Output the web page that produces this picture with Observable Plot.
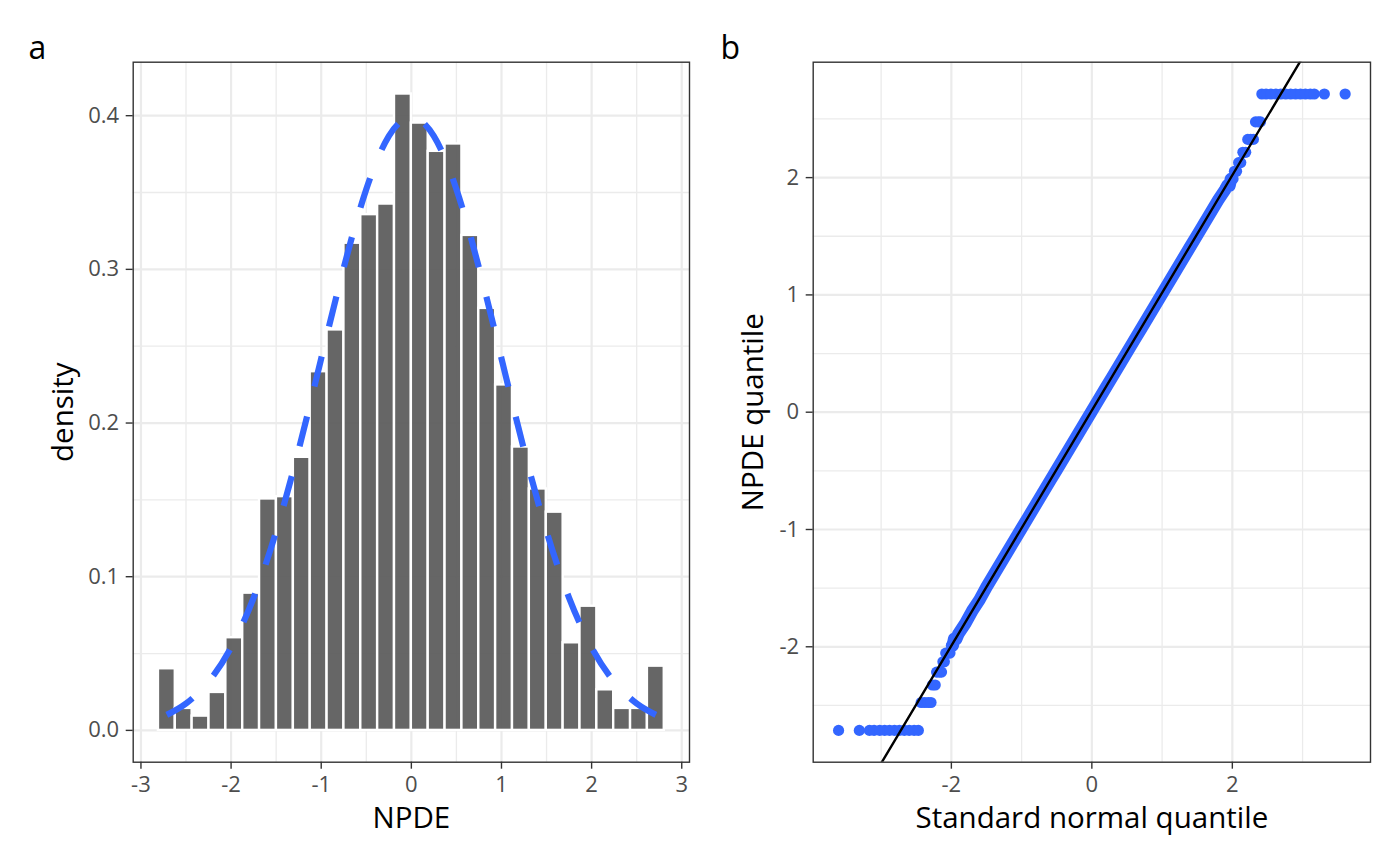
<!DOCTYPE html>
<html><head><meta charset="utf-8">
<script src="https://cdn.jsdelivr.net/npm/d3@7"></script>
<script src="https://cdn.jsdelivr.net/npm/@observablehq/plot@0.6"></script>
<style>
body{margin:0;background:#fff;}
#wrap{position:relative;width:1400px;height:866px;font-family:"Open Sans",sans-serif;}
.panel{position:absolute;top:0;}
</style></head><body>
<div id="wrap">
<div class="panel" id="pa" style="left:0px"></div>
<div class="panel" id="pb" style="left:700px"></div>
</div>
<script>
// ---------- Panel a: histogram of NPDE ----------
const binEdges = [-2.806,-2.619,-2.432,-2.245,-2.058,-1.871,-1.684,-1.497,-1.309,-1.122,-0.935,-0.748,-0.561,-0.374,-0.187,0.000,0.187,0.374,0.561,0.748,0.935,1.122,1.309,1.497,1.684,1.871,2.058,2.245,2.432,2.619,2.806];
const densities = [0.0401,0.0143,0.0093,0.0247,0.0603,0.0893,0.1506,0.1521,0.1777,0.2334,0.2606,0.3170,0.3356,0.3425,0.4141,0.3952,0.3768,0.3816,0.3221,0.2746,0.2248,0.1844,0.1571,0.1420,0.0570,0.0808,0.0264,0.0143,0.0143,0.0418];
const curveX = [-2.713,-2.5,-2.25,-2,-1.75,-1.5,-1.25,-1,-0.75,-0.5,-0.25,0,0.25,0.5,0.75,1,1.25,1.5,1.75,2,2.25,2.5,2.713];
const curveY = [0.0101,0.0175,0.0317,0.0540,0.0863,0.1295,0.1826,0.2420,0.3011,0.3521,0.3867,0.3989,0.3867,0.3521,0.3011,0.2420,0.1826,0.1295,0.0863,0.0540,0.0317,0.0175,0.0101];
const histXTicks = [-3,-2,-1,0,1,2,3];
const histXMinor = [-2.5,-1.5,-0.5,0.5,1.5,2.5];
const histYTicks = [0,0.1,0.2,0.3,0.4];
const histYMinor = [0.05,0.15,0.25,0.35];

// ---------- Panel b: QQ plot ----------
const qqTheoretical = [
 -3.606,-3.310,-3.166,-3.10,-3.02,-2.95,-2.88,-2.81,-2.74,-2.67,-2.60,-2.53,-2.47,
 -2.43,-2.38,-2.33,-2.29,
 -2.27,-2.23,
 -2.21,-2.17,-2.14,
 -2.12,-2.10,
 -2.08,-2.05,-2.02,
 -2.00,-1.98,
 -1.96,-1.93,
 -1.9,-1.8,-1.7,-1.6,-1.5,-1.4,-1.3,-1.2,-1.1,-1.0,-0.9,-0.8,-0.7,-0.6,-0.5,-0.4,-0.3,-0.2,-0.1,
 0.0,0.1,0.2,0.3,0.4,0.5,0.6,0.7,0.8,0.9,1.0,1.1,1.2,1.3,1.4,1.5,1.6,1.7,1.8,1.9,
 1.93,1.96,
 1.98,2.01,
 2.03,2.06,
 2.09,2.12,
 2.15,2.19,
 2.22,2.26,2.30,
 2.33,2.37,2.40,
 2.42,2.48,2.55,2.62,2.69,2.76,2.83,2.90,2.97,3.04,3.11,3.166,3.310,3.606];
const qqSample = [
 -2.713,-2.713,-2.713,-2.713,-2.713,-2.713,-2.713,-2.713,-2.713,-2.713,-2.713,-2.713,-2.713,
 -2.475,-2.475,-2.475,-2.475,
 -2.326,-2.326,
 -2.216,-2.216,-2.216,
 -2.128,-2.128,
 -2.054,-2.054,-2.054,
 -1.989,-1.989,
 -1.933,-1.933,
 -1.89,-1.80,-1.69,-1.60,-1.49,-1.39,-1.29,-1.19,-1.09,-0.99,-0.89,-0.79,-0.69,-0.59,-0.49,-0.39,-0.29,-0.19,-0.09,
 0.01,0.11,0.21,0.31,0.41,0.51,0.61,0.71,0.81,0.91,1.01,1.11,1.21,1.31,1.41,1.51,1.61,1.71,1.81,1.90,
 1.933,1.933,
 1.989,1.989,
 2.054,2.054,
 2.128,2.128,
 2.216,2.216,
 2.326,2.326,2.326,
 2.475,2.475,2.475,
 2.713,2.713,2.713,2.713,2.713,2.713,2.713,2.713,2.713,2.713,2.713,2.713,2.713,2.713];
const qqLineIntercept = 0.015;
const qqLineSlope = 1.003;
const qqXTicks = [-2,0,2];
const qqXMinor = [-3,-1,1,3];
const qqYTicks = [-2,-1,0,1,2];
const qqYMinor = [-2.5,-1.5,-0.5,0.5,1.5,2.5];

const bars = densities.map((d,i) => ({x1: binEdges[i], x2: binEdges[i+1], density: d}));
const curve = curveX.map((x,i) => ({x, y: curveY[i]}));
const qq = qqTheoretical.map((x,i) => ({x, y: qqSample[i]}));

const BLUE = "#3366FF";
const GRID = "#EBEBEB";
const fmt = d => String(d);
const axisCommon = {tickSize: 7, tickPadding: 7, stroke: "#333333", strokeWidth: 1.4, fill: "#4D4D4D", fontSize: 22, label: null};
const TITLE = 29.5;

const xDomA = [-3.086, 3.086];
const plotA = Plot.plot({
  width: 700, height: 866,
  marginLeft: 132.7, marginRight: 11, marginTop: 61.7, marginBottom: 104.3,
  x: {domain: xDomA},
  y: {domain: [-0.0207, 0.4348]},
  style: {fontFamily: "'Open Sans', sans-serif", background: "transparent", overflow: "visible"},
  marks: [
    Plot.gridX(histXMinor, {stroke: GRID, strokeOpacity: 1, strokeWidth: 1.3}),
    Plot.gridY(histYMinor, {stroke: GRID, strokeOpacity: 1, strokeWidth: 1.3}),
    Plot.gridX(histXTicks, {stroke: GRID, strokeOpacity: 1, strokeWidth: 2.2}),
    Plot.gridY(histYTicks, {stroke: GRID, strokeOpacity: 1, strokeWidth: 2.2}),
    Plot.rectY(bars, {x1: "x1", x2: "x2", y: "density", fill: "#5C5C5C", fillOpacity: 0.94, stroke: "white", strokeWidth: 2.4}),
    Plot.line(curve, {x: "x", y: "y", curve: "natural", stroke: BLUE, strokeWidth: 6.2, strokeDasharray: "30,30", strokeLinecap: "butt"}),
    Plot.frame({stroke: "#333333", strokeWidth: 1.4}),
    Plot.axisX(histXTicks, {...axisCommon, tickFormat: fmt}),
    Plot.axisY(histYTicks, {...axisCommon, tickFormat: d => d.toFixed(1)}),
    Plot.text(["NPDE"], {frameAnchor: "bottom", textAnchor: "middle", lineAnchor: "bottom", dy: 66, fontSize: TITLE, fill: "black"}),
    Plot.text(["density"], {frameAnchor: "left", textAnchor: "middle", rotate: -90, dx: -69.7, fontSize: TITLE, fill: "black"}),
    Plot.text(["a"], {frameAnchor: "top-left", textAnchor: "start", lineAnchor: "bottom", dx: -104.7, dy: -3.4, fontSize: 32, fill: "black"})
  ]
});
document.getElementById("pa").appendChild(plotA);
// make the dashed density curve hold 22 dashes and 21 equal gaps, as in the reference
const dashPath = plotA.querySelector('path[stroke-dasharray]') || plotA.querySelector('[stroke-dasharray] path');
if (dashPath && dashPath.getTotalLength) {
  const seg = dashPath.getTotalLength() / 43;
  const owner = dashPath.hasAttribute('stroke-dasharray') ? dashPath : dashPath.parentNode;
  owner.setAttribute('stroke-dasharray', seg.toFixed(2) + ',' + seg.toFixed(2));
}

const xDomB = [-3.967, 3.967];
const qqLine = xDomB.map(x => ({x, y: qqLineIntercept + qqLineSlope * x}));
const plotB = Plot.plot({
  width: 700, height: 866,
  marginLeft: 112.7, marginRight: 30, marginTop: 61.7, marginBottom: 104.3,
  x: {domain: xDomB},
  y: {domain: [-2.984, 2.984]},
  style: {fontFamily: "'Open Sans', sans-serif", background: "transparent", overflow: "visible"},
  marks: [
    Plot.gridX(qqXMinor, {stroke: GRID, strokeOpacity: 1, strokeWidth: 1.3}),
    Plot.gridY(qqYMinor, {stroke: GRID, strokeOpacity: 1, strokeWidth: 1.3}),
    Plot.gridX(qqXTicks, {stroke: GRID, strokeOpacity: 1, strokeWidth: 2.2}),
    Plot.gridY(qqYTicks, {stroke: GRID, strokeOpacity: 1, strokeWidth: 2.2}),
    Plot.line(qq, {filter: d => Math.abs(d.x) < 2.0, x: "x", y: "y", stroke: BLUE, strokeWidth: 12.5, strokeLinecap: "round"}),
    Plot.dot(qq, {x: "x", y: "y", r: 5.6, fill: BLUE, stroke: null}),
    Plot.line(qqLine, {x: "x", y: "y", stroke: "black", strokeWidth: 2.4, clip: true}),
    Plot.frame({stroke: "#333333", strokeWidth: 1.4}),
    Plot.axisX(qqXTicks, {...axisCommon, tickFormat: fmt}),
    Plot.axisY(qqYTicks, {...axisCommon, tickFormat: fmt}),
    Plot.text(["Standard normal quantile"], {frameAnchor: "bottom", textAnchor: "middle", lineAnchor: "bottom", dy: 66, fontSize: TITLE, fill: "black"}),
    Plot.text(["NPDE quantile"], {frameAnchor: "left", textAnchor: "middle", rotate: -90, dx: -59.7, fontSize: TITLE, fill: "black"}),
    Plot.text(["b"], {frameAnchor: "top-left", textAnchor: "start", lineAnchor: "bottom", dx: -92.7, dy: -3.4, fontSize: 32, fill: "black"})
  ]
});
document.getElementById("pb").appendChild(plotB);
</script>
</body></html>
